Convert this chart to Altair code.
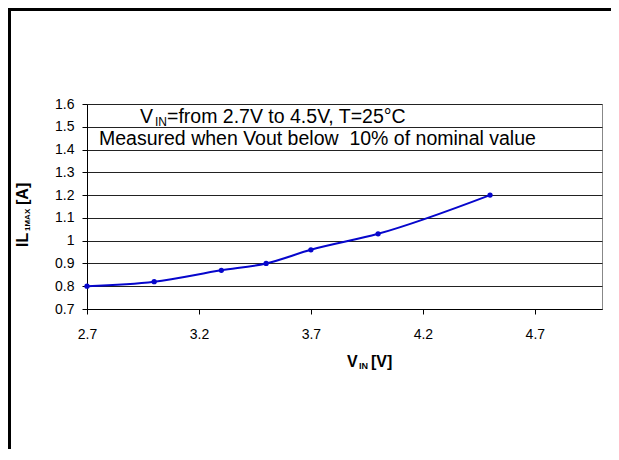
import altair as alt
import pandas as pd

# Data
vin = [2.7, 3.0, 3.3, 3.5, 3.7, 4.0, 4.5]
il_max = [0.80, 0.82, 0.87, 0.90, 0.96, 1.03, 1.20]

x_ticks = [2.7, 3.2, 3.7, 4.2, 4.7]
y_ticks = [0.7, 0.8, 0.9, 1.0, 1.1, 1.2, 1.3, 1.4, 1.5, 1.6]

note1_main = "V"
note1_sub = "IN"
note1_rest = "=from 2.7V to 4.5V, T=25°C"
note2 = "Measured when Vout below\u00a0 10% of nominal value"

xtitle_main = "V"
xtitle_sub = "IN"
xtitle_rest = "[V]"
ytitle_main = "IL"
ytitle_sub = "1MAX"
ytitle_rest = "[A]"

FONT = "Liberation Sans"
W, H = 515, 205
PAD = {"left": 79, "top": 96, "right": 9, "bottom": 140}

df = pd.DataFrame({"vin": vin, "il": il_max})

xs = alt.Scale(domain=[2.7, 5.0], nice=False, zero=False)
ys = alt.Scale(domain=[0.7, 1.6], nice=False, zero=False)

base = alt.Chart(df)

xaxis = alt.Axis(
    values=x_ticks, tickCount=len(x_ticks), format=".1f", title=None, grid=False,
    tickSize=5, tickColor="#000000", domainColor="#000000", labelFontSize=14,
    labelPadding=13, labelFlush=False, labelOverlap=False,
    labelColor="#000000", labelFont=FONT)
yaxis = alt.Axis(
    values=y_ticks, tickCount=len(y_ticks), format="~g", title=None, grid=True,
    gridColor="#222222", gridWidth=1, tickSize=5, tickColor="#000000",
    domainColor="#000000", labelFontSize=14, labelPadding=8, labelFlush=False,
    labelOverlap=False, labelColor="#000000", labelFont=FONT)

line = base.mark_line(color="#0606CC", strokeWidth=2, interpolate="monotone").encode(
    x=alt.X("vin:Q", scale=xs, axis=xaxis),
    y=alt.Y("il:Q", scale=ys, axis=yaxis),
)

pts = base.mark_circle(color="#0606CC", size=28, opacity=1).encode(
    x=alt.X("vin:Q", scale=xs, axis=xaxis), y=alt.Y("il:Q", scale=ys, axis=yaxis)
)


def txt(s, x, y, size, bold=False, angle=0, color="#000000"):
    kw = dict(font=FONT, fontSize=size, align="left", baseline="alphabetic",
              color=color, fontWeight="bold" if bold else "normal")
    if angle:
        kw["angle"] = angle
    return alt.Chart(pd.DataFrame({"t": [s]})).mark_text(**kw).encode(
        x=alt.value(x), y=alt.value(y), text="t:N")


notes = [
    txt(note1_main, 53, 19, 19.5),
    txt(note1_sub, 68, 22, 12),
    txt(note1_rest, 80, 19, 19.5),
    txt(note2, 12, 41, 19.5),
]

xtitle = [
    txt(xtitle_main, 260, 263, 16, bold=True),
    txt(xtitle_sub, 272, 265, 9, bold=True),
    txt(xtitle_rest, 284, 263, 16, bold=True),
]

ytitle = [
    txt(ytitle_main, -59, 143, 16, bold=True, angle=270),
    txt(ytitle_sub, -57, 127, 8, bold=True, angle=270),
    txt(ytitle_rest, -59, 101, 16, bold=True, angle=270),
]

one = pd.DataFrame({"a": [0]})
frame_left = alt.Chart(one).mark_rect(color="#000000").encode(
    x=alt.value(-79), x2=alt.value(-76), y=alt.value(-96), y2=alt.value(360))
frame_top = alt.Chart(one).mark_rect(color="#000000").encode(
    x=alt.value(-79), x2=alt.value(540), y=alt.value(-96), y2=alt.value(-93))

chart = alt.layer(line, pts, *notes, *xtitle, *ytitle, frame_left, frame_top).properties(
    width=W, height=H, autosize="none", padding=PAD, background="#ffffff"
).configure_view(stroke="#888888", strokeWidth=1).configure_axis(domainWidth=1, tickWidth=1)

chart.save("out.html", embed_options={"renderer": "svg", "actions": False})
